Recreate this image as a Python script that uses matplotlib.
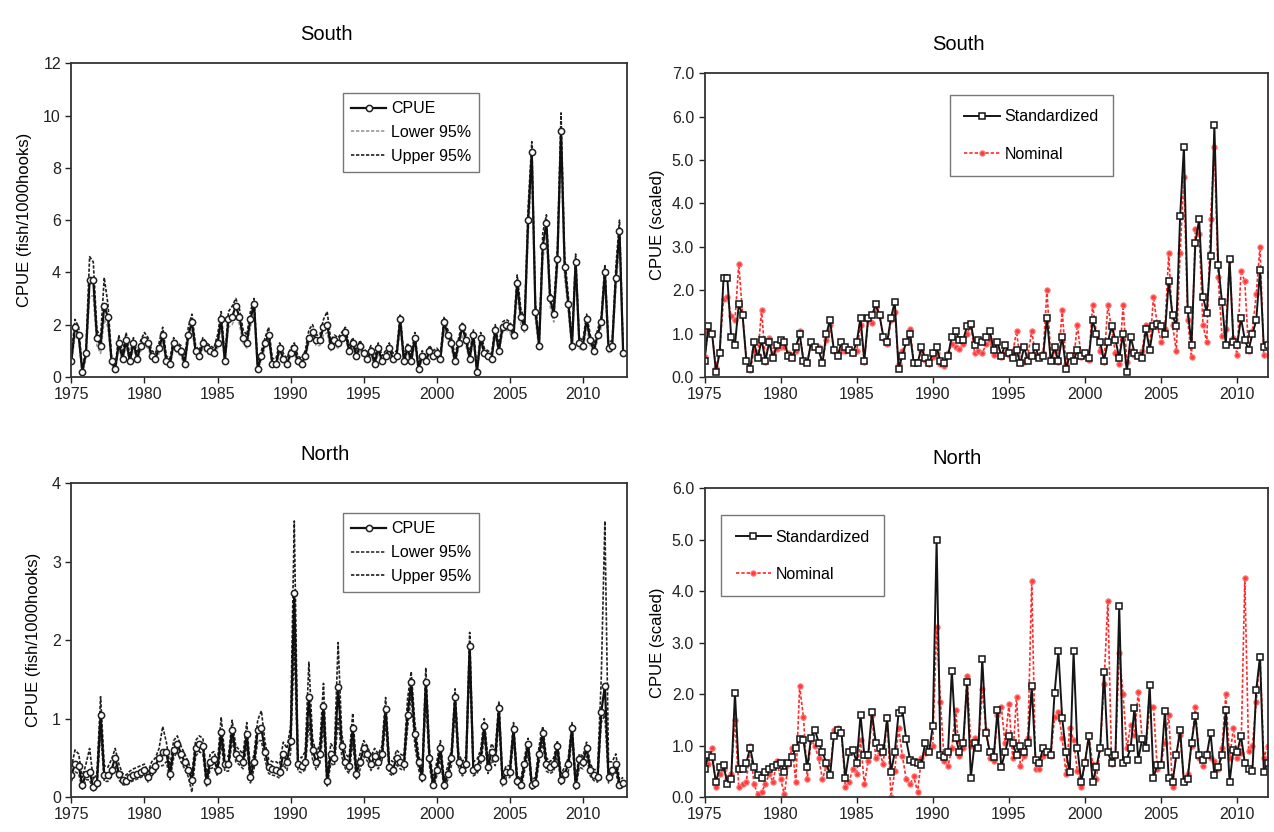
import numpy as np
import matplotlib
matplotlib.use('Agg')
import matplotlib.pyplot as plt
from matplotlib.ticker import FormatStrFormatter

plt.rcParams['font.family'] = ['Liberation Sans', 'DejaVu Sans']

# quarterly time steps 1975 Q1 .. 2012 Q4
time = np.arange(1975, 2013, 0.25)

# ---- South: CPUE with 95% bounds (fish/1000 hooks)
south_cpue = [
    0.6, 1.9, 1.6, 0.2,  0.9, 3.7, 3.7, 1.5,  1.2, 2.7, 2.3, 0.6,  0.3, 1.3, 0.7, 1.4,
    0.6, 1.3, 0.7, 1.2,  1.4, 1.3, 0.8, 0.7,  1.1, 1.6, 0.6, 0.5,  1.3, 1.1, 1.0, 0.5,
    1.6, 2.1, 1.0, 0.8,  1.3, 1.1, 1.0, 0.9,  1.3, 2.2, 0.6, 2.2,  2.3, 2.7, 2.3, 1.5,
    1.3, 2.2, 2.8, 0.3,  0.8, 1.3, 1.6, 0.5,  0.5, 1.1, 0.7, 0.5,  0.9, 1.1, 0.6, 0.5,
    0.8, 1.5, 1.7, 1.4,  1.4, 1.9, 2.0, 1.2,  1.4, 1.3, 1.5, 1.7,  1.0, 1.3, 0.8, 1.2,
    0.9, 0.7, 1.0, 0.5,  1.1, 0.6, 0.8, 1.1,  0.7, 0.8, 2.2, 0.6,  1.1, 0.6, 1.5, 0.3,
    0.8, 0.6, 1.0, 0.8,  0.9, 0.7, 2.1, 1.6,  1.3, 0.6, 1.3, 1.9,  1.4, 0.7, 1.6, 0.2,
    1.5, 0.9, 0.8, 0.7,  1.8, 1.0, 1.9, 2.0,  1.9, 1.6, 3.6, 2.3,  1.9, 6.0, 8.6, 2.5,
    1.2, 5.0, 5.9, 3.0,  2.4, 4.5, 9.4, 4.2,  2.8, 1.2, 4.4, 1.3,  1.2, 2.2, 1.4, 1.0,
    1.6, 2.1, 4.0, 1.1,  1.2, 3.8, 5.6, 0.9]
south_lower = [
    0.5, 1.6, 1.4, 0.1,  0.7, 3.1, 3.1, 1.2,  0.9, 2.2, 1.9, 0.5,  0.2, 1.1, 0.6, 1.2,
    0.5, 1.1, 0.6, 1.0,  1.2, 1.1, 0.7, 0.6,  0.9, 1.4, 0.5, 0.4,  1.1, 0.9, 0.8, 0.4,
    1.4, 1.8, 0.9, 0.7,  1.1, 0.9, 0.9, 0.8,  1.1, 1.9, 0.5, 1.9,  2.0, 2.3, 2.0, 1.3,
    1.1, 1.9, 2.5, 0.2,  0.7, 1.1, 1.4, 0.4,  0.4, 0.9, 0.6, 0.4,  0.8, 0.9, 0.5, 0.4,
    0.7, 1.3, 1.5, 1.2,  1.2, 1.6, 1.7, 1.0,  1.2, 1.1, 1.3, 1.5,  0.9, 1.1, 0.7, 1.0,
    0.8, 0.6, 0.9, 0.4,  0.9, 0.5, 0.7, 0.9,  0.6, 0.7, 1.9, 0.5,  0.9, 0.5, 1.3, 0.2,
    0.7, 0.5, 0.9, 0.7,  0.8, 0.6, 1.8, 1.4,  1.1, 0.5, 1.1, 1.6,  1.2, 0.6, 1.4, 0.1,
    1.3, 0.8, 0.7, 0.6,  1.6, 0.9, 1.7, 1.8,  1.7, 1.4, 3.2, 2.0,  1.7, 5.4, 7.9, 2.2,
    1.0, 4.5, 5.4, 2.7,  2.1, 4.1, 8.7, 3.8,  2.5, 1.0, 4.0, 1.1,  1.0, 1.9, 1.2, 0.9,
    1.4, 1.9, 3.6, 0.9,  1.0, 3.4, 5.1, 0.8]
south_upper = [
    0.8, 2.2, 1.9, 0.3,  1.1, 4.6, 4.4, 1.8,  1.5, 3.8, 2.8, 0.8,  0.4, 1.6, 0.9, 1.7,
    0.8, 1.5, 0.9, 1.4,  1.7, 1.5, 1.0, 0.9,  1.3, 1.9, 0.8, 0.7,  1.5, 1.3, 1.2, 0.7,
    1.9, 2.4, 1.2, 1.0,  1.5, 1.3, 1.2, 1.1,  1.6, 2.5, 0.8, 2.5,  2.7, 3.0, 2.6, 1.8,
    1.6, 2.5, 3.0, 0.5,  1.0, 1.5, 1.9, 0.7,  0.7, 1.3, 0.9, 0.7,  1.1, 1.3, 0.8, 0.7,
    1.0, 1.8, 2.0, 1.6,  1.6, 2.2, 2.5, 1.4,  1.6, 1.5, 1.7, 1.9,  1.2, 1.5, 1.0, 1.4,
    1.1, 0.9, 1.2, 0.7,  1.3, 0.8, 1.0, 1.3,  0.9, 1.0, 2.4, 0.8,  1.3, 0.8, 1.7, 0.4,
    1.0, 0.8, 1.2, 1.0,  1.1, 0.9, 2.3, 1.8,  1.5, 0.8, 1.5, 2.1,  1.6, 0.9, 1.8, 0.3,
    1.7, 1.1, 1.0, 0.9,  2.0, 1.2, 2.1, 2.2,  2.1, 1.8, 3.9, 2.6,  2.2, 6.5, 9.0, 2.8,
    1.4, 5.5, 6.2, 3.3,  2.7, 4.9, 10.1, 4.6, 3.1, 1.4, 4.7, 1.5,  1.4, 2.4, 1.6, 1.2,
    1.8, 2.3, 4.3, 1.3,  1.4, 4.2, 6.0, 1.1]

# ---- South: scaled indices
south_std = [
    0.37, 1.17, 0.99, 0.12,  0.56, 2.28, 2.28, 0.93,  0.74, 1.67, 1.42, 0.37,  0.19, 0.80, 0.43, 0.86,
    0.37, 0.80, 0.43, 0.74,  0.86, 0.80, 0.49, 0.43,  0.68, 0.99, 0.37, 0.31,  0.80, 0.68, 0.62, 0.31,
    0.99, 1.30, 0.62, 0.49,  0.80, 0.68, 0.62, 0.56,  0.80, 1.36, 0.37, 1.36,  1.42, 1.67, 1.42, 0.93,
    0.80, 1.36, 1.73, 0.19,  0.49, 0.80, 0.99, 0.31,  0.31, 0.68, 0.43, 0.31,  0.56, 0.68, 0.37, 0.31,
    0.49, 0.93, 1.05, 0.86,  0.86, 1.17, 1.23, 0.74,  0.86, 0.80, 0.93, 1.05,  0.62, 0.80, 0.49, 0.74,
    0.56, 0.43, 0.62, 0.31,  0.68, 0.37, 0.49, 0.68,  0.43, 0.49, 1.36, 0.37,  0.68, 0.37, 0.93, 0.19,
    0.49, 0.37, 0.62, 0.49,  0.56, 0.43, 1.30, 0.99,  0.80, 0.37, 0.80, 1.17,  0.86, 0.43, 0.99, 0.12,
    0.93, 0.56, 0.49, 0.43,  1.11, 0.62, 1.17, 1.23,  1.17, 0.99, 2.22, 1.42,  1.17, 3.70, 5.31, 1.54,
    0.74, 3.09, 3.64, 1.85,  1.48, 2.78, 5.80, 2.59,  1.73, 0.74, 2.72, 0.80,  0.74, 1.36, 0.86, 0.62,
    0.99, 1.30, 2.47, 0.68,  0.74, 2.35, 3.46, 0.56]
south_nom = [
    0.45, 1.05, 1.0, 0.2,  0.6, 1.8, 1.85, 1.4,  1.3, 2.6, 1.45, 0.4,  0.15, 0.6, 0.5, 1.55,
    0.35, 0.9, 0.55, 0.65,  0.7, 0.7, 0.55, 0.5,  0.6, 1.05, 0.4, 0.35,  0.75, 0.7, 0.7, 0.35,
    0.85, 1.2, 0.6, 0.5,  0.6, 0.6, 0.65, 0.55,  0.6, 1.2, 0.35, 1.3,  1.25, 1.6, 1.4, 0.9,
    0.75, 1.3, 1.5, 0.3,  0.6, 0.8, 1.1, 0.35,  0.35, 0.6, 0.4, 0.3,  0.45, 0.55, 0.3, 0.25,
    0.55, 0.75, 0.7, 0.65,  0.75, 1.0, 1.2, 0.55,  0.6, 0.55, 0.75, 0.85,  0.5, 0.8, 0.45, 0.55,
    0.5, 0.55, 1.05, 0.35,  0.35, 0.5, 1.05, 0.5,  0.45, 0.55, 2.0, 0.45,  0.6, 0.35, 1.55, 0.3,
    0.5, 0.4, 1.2, 0.45,  0.5, 0.4, 1.65, 1.0,  0.6, 0.35, 1.65, 1.1,  0.55, 0.3, 1.65, 0.35,
    0.6, 0.5, 0.5, 0.6,  1.2, 0.65, 1.85, 1.2,  0.8, 1.1, 2.85, 1.2,  0.6, 2.85, 4.6, 1.3,
    0.45, 3.4, 3.3, 1.2,  0.8, 3.65, 5.3, 2.3,  0.95, 1.1, 2.7, 0.9,  0.5, 2.45, 2.2, 0.6,
    1.05, 1.9, 3.0, 0.5,  0.5, 2.0, 3.0, 0.6]

# ---- North: CPUE with 95% bounds (fish/1000 hooks)
north_cpue = [
    0.28, 0.42, 0.40, 0.15,  0.30, 0.32, 0.13, 0.18,  1.05, 0.28, 0.28, 0.35,  0.50, 0.30, 0.22, 0.20,
    0.25, 0.28, 0.30, 0.32,  0.35, 0.25, 0.35, 0.40,  0.50, 0.58, 0.57, 0.30,  0.60, 0.68, 0.55, 0.45,
    0.35, 0.22, 0.62, 0.68,  0.65, 0.20, 0.45, 0.48,  0.35, 0.83, 0.42, 0.42,  0.86, 0.55, 0.50, 0.45,
    0.80, 0.25, 0.45, 0.85,  0.88, 0.58, 0.38, 0.36,  0.35, 0.32, 0.55, 0.45,  0.72, 2.60, 0.42, 0.40,
    0.45, 1.28, 0.60, 0.45,  0.55, 1.16, 0.20, 0.55,  0.50, 1.40, 0.65, 0.45,  0.40, 0.88, 0.30, 0.45,
    0.62, 0.55, 0.42, 0.52,  0.45, 0.55, 1.12, 0.38,  0.35, 0.50, 0.45, 0.42,  1.05, 1.47, 0.80, 0.45,
    0.25, 1.47, 0.50, 0.15,  0.35, 0.62, 0.15, 0.30,  0.50, 1.27, 0.45, 0.35,  0.42, 1.93, 0.35, 0.38,
    0.50, 0.90, 0.38, 0.58,  0.50, 1.13, 0.20, 0.32,  0.32, 0.87, 0.20, 0.15,  0.42, 0.68, 0.15, 0.18,
    0.55, 0.82, 0.42, 0.38,  0.42, 0.65, 0.22, 0.30,  0.42, 0.88, 0.15, 0.48,  0.45, 0.62, 0.35, 0.28,
    0.26, 1.08, 1.42, 0.25,  0.35, 0.42, 0.15, 0.18]
north_lower = [
    0.20, 0.32, 0.30, 0.10,  0.22, 0.22, 0.08, 0.12,  0.85, 0.20, 0.20, 0.26,  0.40, 0.22, 0.16, 0.15,
    0.19, 0.21, 0.23, 0.25,  0.28, 0.19, 0.27, 0.32,  0.40, 0.40, 0.45, 0.22,  0.50, 0.58, 0.45, 0.36,
    0.26, 0.06, 0.52, 0.58,  0.55, 0.14, 0.36, 0.38,  0.27, 0.68, 0.33, 0.33,  0.74, 0.45, 0.41, 0.36,
    0.67, 0.18, 0.36, 0.72,  0.72, 0.47, 0.30, 0.28,  0.27, 0.24, 0.42, 0.34,  0.56, 1.95, 0.33, 0.31,
    0.35, 0.95, 0.48, 0.35,  0.43, 0.90, 0.14, 0.43,  0.40, 1.00, 0.52, 0.36,  0.30, 0.70, 0.23, 0.35,
    0.52, 0.46, 0.34, 0.43,  0.36, 0.46, 0.95, 0.30,  0.27, 0.41, 0.36, 0.34,  0.88, 1.30, 0.66, 0.36,
    0.18, 1.25, 0.40, 0.10,  0.27, 0.50, 0.10, 0.22,  0.40, 1.12, 0.36, 0.27,  0.33, 1.72, 0.27, 0.30,
    0.40, 0.78, 0.30, 0.47,  0.40, 0.98, 0.14, 0.25,  0.25, 0.75, 0.14, 0.10,  0.33, 0.56, 0.10, 0.13,
    0.45, 0.70, 0.33, 0.30,  0.33, 0.54, 0.16, 0.23,  0.33, 0.76, 0.10, 0.38,  0.36, 0.52, 0.27, 0.21,
    0.19, 0.95, 1.05, 0.18,  0.27, 0.32, 0.10, 0.13]
north_upper = [
    0.38, 0.60, 0.55, 0.25,  0.42, 0.62, 0.22, 0.30,  1.28, 0.40, 0.38, 0.48,  0.62, 0.42, 0.30, 0.28,
    0.33, 0.36, 0.38, 0.40,  0.42, 0.32, 0.45, 0.50,  0.62, 0.90, 0.70, 0.40,  0.72, 0.78, 0.65, 0.55,
    0.45, 0.30, 0.72, 0.78,  0.75, 0.28, 0.55, 0.58,  0.45, 1.02, 0.52, 0.52,  0.98, 0.65, 0.60, 0.55,
    0.95, 0.35, 0.55, 0.98,  1.10, 0.70, 0.48, 0.45,  0.45, 0.42, 0.70, 0.62,  0.90, 3.52, 0.52, 0.50,
    0.58, 1.72, 0.75, 0.55,  0.68, 1.45, 0.28, 0.68,  0.62, 1.97, 0.80, 0.55,  0.50, 1.07, 0.38, 0.55,
    0.72, 0.65, 0.52, 0.62,  0.55, 0.65, 1.27, 0.48,  0.45, 0.60, 0.55, 0.52,  1.25, 1.60, 0.95, 0.55,
    0.33, 1.65, 0.60, 0.22,  0.45, 0.72, 0.22, 0.40,  0.60, 1.38, 0.55, 0.45,  0.52, 2.10, 0.45, 0.48,
    0.60, 1.00, 0.48, 0.68,  0.60, 1.22, 0.28, 0.40,  0.40, 0.95, 0.28, 0.22,  0.50, 0.75, 0.22, 0.25,
    0.65, 0.90, 0.50, 0.45,  0.50, 0.72, 0.30, 0.38,  0.50, 0.95, 0.22, 0.55,  0.52, 0.70, 0.42, 0.35,
    0.35, 1.50, 3.52, 0.45,  0.45, 0.55, 0.22, 0.25]

# ---- North: scaled indices
north_std = [
    0.54, 0.81, 0.77, 0.29,  0.58, 0.62, 0.25, 0.35,  2.02, 0.54, 0.54, 0.67,  0.96, 0.58, 0.42, 0.38,
    0.48, 0.54, 0.58, 0.62,  0.67, 0.48, 0.67, 0.77,  0.96, 1.12, 1.10, 0.58,  1.15, 1.31, 1.06, 0.87,
    0.67, 0.42, 1.19, 1.31,  1.25, 0.38, 0.87, 0.92,  0.67, 1.60, 0.81, 0.81,  1.65, 1.06, 0.96, 0.87,
    1.54, 0.48, 0.87, 1.63,  1.69, 1.12, 0.73, 0.69,  0.67, 0.62, 1.06, 0.87,  1.38, 5.00, 0.81, 0.77,
    0.87, 2.46, 1.15, 0.87,  1.06, 2.23, 0.38, 1.06,  0.96, 2.69, 1.25, 0.87,  0.77, 1.69, 0.58, 0.87,
    1.19, 1.06, 0.81, 1.00,  0.87, 1.06, 2.15, 0.73,  0.67, 0.96, 0.87, 0.81,  2.02, 2.83, 1.54, 0.87,
    0.48, 2.83, 0.96, 0.29,  0.67, 1.19, 0.29, 0.58,  0.96, 2.44, 0.87, 0.67,  0.81, 3.71, 0.67, 0.73,
    0.96, 1.73, 0.73, 1.12,  0.96, 2.17, 0.38, 0.62,  0.62, 1.67, 0.38, 0.29,  0.81, 1.31, 0.29, 0.35,
    1.06, 1.58, 0.81, 0.73,  0.81, 1.25, 0.42, 0.58,  0.81, 1.69, 0.29, 0.92,  0.87, 1.19, 0.67, 0.54,
    0.50, 2.08, 2.73, 0.48,  0.67, 0.81, 0.29, 0.35]
north_nom = [
    0.7, 0.65, 0.95, 0.2,  0.45, 0.55, 0.35, 0.45,  1.5, 0.2, 0.25, 0.3,  1.0, 0.25, 0.05, 0.1,
    0.25, 0.45, 0.3, 0.7,  0.35, 0.05, 0.65, 0.95,  0.3, 2.15, 1.55, 0.35,  1.1, 1.0, 0.75, 0.35,
    0.6, 0.45, 1.3, 1.35,  1.25, 0.2, 0.3, 0.55,  0.45, 1.1, 0.25, 0.7,  1.6, 0.75, 0.85, 0.65,
    1.55, 0.0, 0.5, 1.35,  0.8, 0.35, 0.25, 0.4,  0.1, 0.75, 0.85, 0.9,  1.0, 3.3, 1.85, 0.7,
    0.6, 0.95, 1.7, 0.8,  0.95, 2.35, 1.0, 1.15,  0.95, 2.1, 1.3, 0.75,  0.7, 1.6, 1.75, 1.05,
    1.8, 0.75, 1.95, 0.6,  0.8, 1.15, 4.2, 0.55,  0.55, 0.8, 0.9, 0.8,  1.55, 1.65, 1.15, 0.45,
    1.35, 1.1, 0.5, 0.2,  0.7, 1.2, 0.65, 0.35,  0.95, 2.2, 3.82, 0.65,  0.8, 2.8, 2.0, 0.95,
    1.4, 1.2, 2.05, 1.15,  0.95, 1.75, 1.75, 0.55,  0.65, 1.05, 1.6, 0.2,  0.85, 1.2, 0.3, 0.45,
    1.0, 1.75, 0.75, 0.6,  0.85, 0.75, 0.7, 0.55,  0.95, 2.0, 0.75, 1.35,  0.75, 0.85, 4.25, 0.9,
    1.0, 1.85, 2.75, 0.75,  1.0, 0.8, 0.6, 0.5]

year_ticks = [1975, 1980, 1985, 1990, 1995, 2000, 2005, 2010]

fig = plt.figure(figsize=(12.74, 8.32), dpi=100)

ax_tl = fig.add_axes([0.056, 0.547, 0.436, 0.377])
ax_tr = fig.add_axes([0.553, 0.547, 0.442, 0.365])
ax_bl = fig.add_axes([0.056, 0.042, 0.436, 0.377])
ax_br = fig.add_axes([0.553, 0.042, 0.442, 0.371])


def cpue_panel(ax, cpue, lower, upper, ymax, lower_color):
    ax.plot(time, lower, color=lower_color, ls=(0, (2, 1)), lw=1.2, label='Lower 95%')
    ax.plot(time, upper, color='#202020', ls=(0, (2, 1)), lw=1.2, label='Upper 95%')
    ax.plot(time, cpue, color='#101010', lw=1.6, marker='o', ms=4.5, mfc='white',
            mec='#202020', mew=1.1, label='CPUE')
    ax.set_xlim(1975, 2013)
    ax.set_ylim(0, ymax)
    ax.set_ylabel('CPUE (fish/1000hooks)', fontsize=12, labelpad=8)
    h, l = ax.get_legend_handles_labels()
    order = [2, 0, 1]
    ax.legend([h[i] for i in order], [l[i] for i in order], loc='upper left',
              bbox_to_anchor=(0.475, 0.93), fontsize=11.5, frameon=True, fancybox=False,
              edgecolor='#555555', handlelength=2.2, handletextpad=0.3, labelspacing=0.55,
              borderpad=0.5)


def scaled_panel(ax, std, nom, ymax, legend_pos):
    ax.plot(time, nom, color='#ff2a2a', ls=(0, (2, 1.2)), lw=1.2, marker='o', ms=3.8,
            mfc='#ff3b3b', mec='#ff7a7a', mew=0.8, label='Nominal')
    ax.plot(time, std, color='#151515', lw=1.4, marker='s', ms=5, mfc='white',
            mec='#151515', mew=1.1, label='Standardized')
    ax.set_xlim(1975, 2012)
    ax.set_ylim(0, ymax)
    ax.yaxis.set_major_formatter(FormatStrFormatter('%.1f'))
    ax.set_ylabel('CPUE (scaled)', fontsize=12, labelpad=5)
    h, l = ax.get_legend_handles_labels()
    ax.legend([h[1], h[0]], [l[1], l[0]], loc='upper left', bbox_to_anchor=legend_pos,
              fontsize=11.5, frameon=True, fancybox=False, edgecolor='#555555',
              handlelength=2.2, handletextpad=0.3, labelspacing=1.4, borderpad=0.9,
              borderaxespad=0)


cpue_panel(ax_tl, south_cpue, south_lower, south_upper, 12, '#9a9a9a')
ax_tl.set_yticks([0, 2, 4, 6, 8, 10, 12])
cpue_panel(ax_bl, north_cpue, north_lower, north_upper, 4, '#303030')
ax_bl.set_yticks([0, 1, 2, 3, 4])

scaled_panel(ax_tr, south_std, south_nom, 7, (0.436, 0.928))
ax_tr.set_yticks(np.arange(0, 7.5, 1.0))
scaled_panel(ax_br, north_std, north_nom, 6, (0.03, 0.913))
ax_br.set_yticks(np.arange(0, 6.5, 1.0))

for ax in (ax_tl, ax_tr, ax_bl, ax_br):
    ax.set_xticks(year_ticks)
    ax.tick_params(labelsize=11.5, direction='out', length=4, width=1, colors='#222222')
    for sp in ax.spines.values():
        sp.set_linewidth(1.3)
        sp.set_color('#333333')

fig.text(326 / 1274, 1 - 35 / 832, 'South', ha='center', va='center', fontsize=14.5)
fig.text(958 / 1274, 1 - 45 / 832, 'South', ha='center', va='center', fontsize=14.5)
fig.text(325 / 1274, 1 - 455 / 832, 'North', ha='center', va='center', fontsize=14.5)
fig.text(957 / 1274, 1 - 459 / 832, 'North', ha='center', va='center', fontsize=14.5)

fig.savefig('out.png', dpi=100)
